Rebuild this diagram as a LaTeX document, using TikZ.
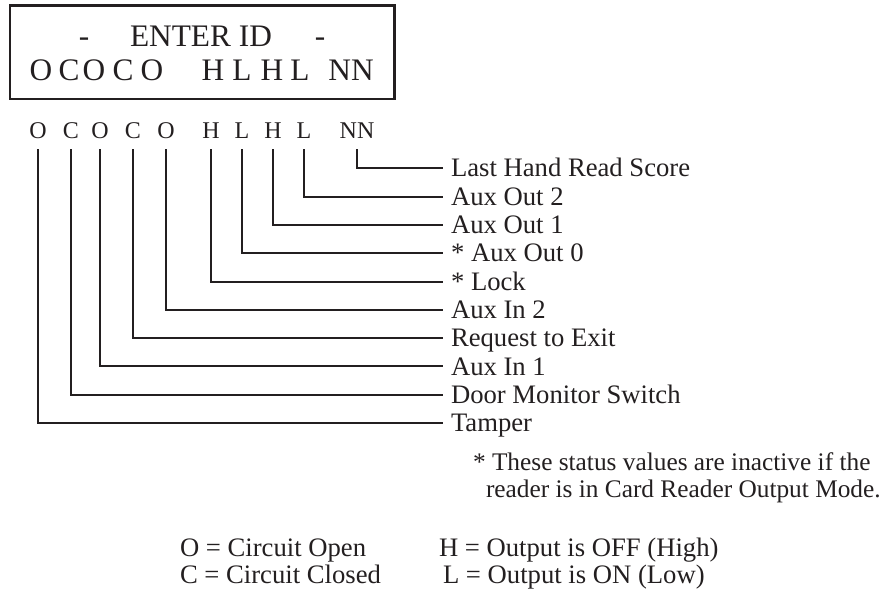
\documentclass[tikz,border=0pt]{standalone}
\usepackage{fontspec}
\setmainfont{Liberation Serif}
\definecolor{ink}{RGB}{35,31,32}
\tikzset{every picture/.style={line width=1.5pt}}
\tikzset{
	ltr/.style={anchor=base, text depth=0pt, inner xsep=0pt, inner ysep=7.5pt, font=\fontsize{18}{21}\selectfont},
	lcd/.style={anchor=base, inner sep=0pt, font=\fontsize{23.5}{27}\selectfont},
	lbl/.style={anchor=west, inner xsep=5.25pt, inner ysep=0pt, text height=13pt, text depth=0pt, font=\fontsize{20}{24}\selectfont},
	txt/.style={anchor=base west, inner sep=0pt, font=\fontsize{20}{24}\selectfont}}

\begin{document}
\begin{tikzpicture}[x=0.75pt,y=0.75pt,yscale=-1,xscale=1,color=ink]
	\useasboundingbox (0,0) rectangle (880,590);

	%Shape: Rectangle [id:display]
	\draw  [line width=1.8pt] (10,5.5) -- (394.5,5.5) -- (394.5,99) -- (10,99) -- cycle ;

	% Text Node
	\node [lcd] (dashl) at (84,46) {-};
	% Text Node
	\node [lcd] (enter) at (201,46) {ENTER ID};
	% Text Node
	\node [lcd] (dashr) at (320,46) {-};
	% Text Node
	\node [lcd] (dO1) at (41,80) {O};
	\node [lcd] (dC1) at (69,80) {C};
	\node [lcd] (dO2) at (94,80) {O};
	\node [lcd] (dC2) at (123,80) {C};
	\node [lcd] (dO3) at (152,80) {O};
	\node [lcd] (dH1) at (213,80) {H};
	\node [lcd] (dL1) at (242,80) {L};
	\node [lcd] (dH2) at (272,80) {H};
	\node [lcd] (dL2) at (300,80) {L};
	\node [lcd] (dNN) at (351,80) {NN};

	% Text Node
	\node [ltr] (o1) at (38,138) {O};
	\node [ltr] (c1) at (71,138) {C};
	\node [ltr] (o2) at (100,138) {O};
	\node [ltr] (c2) at (133,138) {C};
	\node [ltr] (o3) at (166,138) {O};
	\node [ltr] (h1) at (211,138) {H};
	\node [ltr] (l1) at (242,138) {L};
	\node [ltr] (h2) at (273,138) {H};
	\node [ltr] (l2) at (304,138) {L};
	\node [ltr] (nn) at (357,138) {NN};

	% Text Node
	\node [lbl] (score) at (443,168.3) {Last Hand Read Score};
	\node [lbl] (aux2) at (443,196.6) {Aux Out 2};
	\node [lbl] (aux1) at (443,224.9) {Aux Out 1};
	\node [lbl] (aux0) at (443,253.2) {* Aux Out 0};
	\node [lbl] (lock) at (443,281.5) {* Lock};
	\node [lbl] (in2) at (443,309.8) {Aux In 2};
	\node [lbl] (rex) at (443,338.1) {Request to Exit};
	\node [lbl] (in1) at (443,366.4) {Aux In 1};
	\node [lbl] (dms) at (443,394.7) {Door Monitor Switch};
	\node [lbl] (tamper) at (443,423) {Tamper};

	%Straight Lines
	\draw (nn.south) |- (score.west) ;
	\draw (l2.south) |- (aux2.west) ;
	\draw (h2.south) |- (aux1.west) ;
	\draw (l1.south) |- (aux0.west) ;
	\draw (h1.south) |- (lock.west) ;
	\draw (o3.south) |- (in2.west) ;
	\draw (c2.south) |- (rex.west) ;
	\draw (o2.south) |- (in1.west) ;
	\draw (c1.south) |- (dms.west) ;
	\draw (o1.south) |- (tamper.west) ;

	% Text Node
	\node [txt, font=\fontsize{19}{23}\selectfont] (note1) at (472,470) {* These status values are inactive if the};
	% Text Node
	\node [txt, font=\fontsize{19}{23}\selectfont] (note2) at (485,497) {reader is in Card Reader Output Mode.};
	% Text Node
	\node [txt] (open) at (179,556) {O = Circuit Open};
	% Text Node
	\node [txt] (closed) at (179,583) {C = Circuit Closed};
	% Text Node
	\node [txt] (high) at (438,556) {H = Output is OFF (High)};
	% Text Node
	\node [txt] (low) at (442,583) {L = Output is ON (Low)};

\end{tikzpicture}
\end{document}
